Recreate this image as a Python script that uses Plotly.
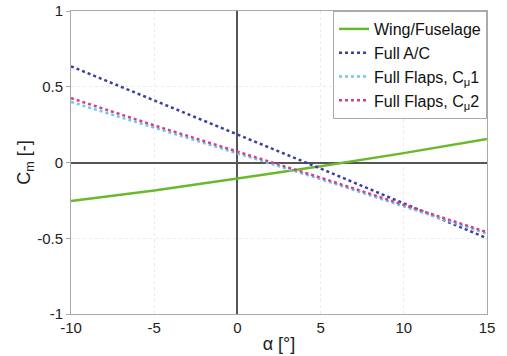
import plotly.graph_objects as go

alpha = [-10, -5, 0, 5, 10, 15]
cm_wing = [-0.255, -0.185, -0.105, -0.025, 0.062, 0.155]
cm_full = [0.635, 0.41, 0.19, -0.04, -0.27, -0.50]
cm_flap1 = [0.40, 0.23, 0.063, -0.11, -0.29, -0.47]
cm_flap2 = [0.425, 0.245, 0.072, -0.10, -0.28, -0.46]

x_ticks = [-10, -5, 0, 5, 10, 15]
x_tick_text = ["-10", "-5", "0", "5", "10", "15"]
y_ticks = [-1, -0.5, 0, 0.5, 1]
y_tick_text = ["-1", "-0.5", "0", "0.5", "1"]

fig = go.Figure()
fig.add_trace(go.Scatter(x=alpha, y=cm_wing, mode="lines", name="Wing/Fuselage",
                         line=dict(color="#6ab82e", width=2.5)))
fig.add_trace(go.Scatter(x=alpha, y=cm_full, mode="lines", name="Full A/C",
                         line=dict(color="#3a3fa0", width=2.5, dash="dot")))
fig.add_trace(go.Scatter(x=alpha, y=cm_flap1, mode="lines", name="Full Flaps, C<sub>μ</sub>1",
                         line=dict(color="#6fcbe8", width=2.5, dash="dot")))
fig.add_trace(go.Scatter(x=alpha, y=cm_flap2, mode="lines", name="Full Flaps, C<sub>μ</sub>2",
                         line=dict(color="#d0408f", width=2.5, dash="dot")))

font = dict(family="Liberation Sans, Arial, sans-serif", size=15, color="#222222")
fig.update_layout(
    width=507, height=356,
    margin=dict(l=71, r=20, t=11, b=42, autoexpand=False),
    paper_bgcolor="white", plot_bgcolor="white",
    font=font,
    showlegend=True,
    legend=dict(x=1, y=1, xanchor="right", yanchor="top",
                bgcolor="white", bordercolor="#aaaaaa", borderwidth=1,
                font=dict(family="Liberation Sans, Arial, sans-serif", size=16, color="#111111"),
                tracegroupgap=0, itemwidth=30),
)
fig.update_xaxes(range=[-10, 15], tickvals=x_ticks, ticktext=x_tick_text, ticks="", automargin=False,
                 showgrid=True, gridcolor="#ebebeb", griddash="dot",
                 showline=True, linecolor="#aaaaaa", mirror=True,
                 zeroline=True, zerolinecolor="#555555", zerolinewidth=1.5,
                 title=dict(text="α [°]", standoff=2), tickfont=font)
fig.update_yaxes(range=[-1, 1], tickvals=y_ticks, ticktext=y_tick_text, ticks="outside", ticklen=4,
                 tickcolor="#aaaaaa", automargin=False,
                 showgrid=True, gridcolor="#ebebeb", griddash="dot",
                 showline=True, linecolor="#aaaaaa", mirror=True,
                 zeroline=True, zerolinecolor="#555555", zerolinewidth=1.5,
                 title=dict(text="C<sub>m</sub> [-]", standoff=1), tickfont=font)

fig.write_html("out.html", config={"displayModeBar": False},
               post_script="document.body.style.margin='0';")
